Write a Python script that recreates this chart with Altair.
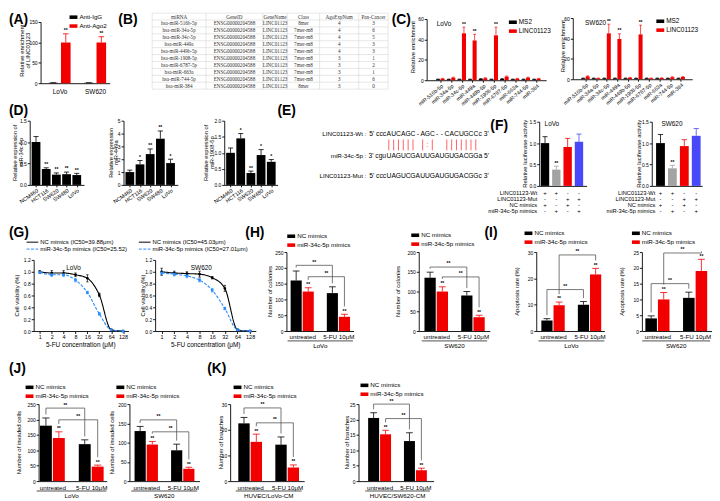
import altair as alt
import pandas as pd

FONT = "Liberation Sans"
SERIF = "Liberation Serif"
RED = "#f20000"
GRAY = "#a3a3a3"
BLUEBAR = "#4848f8"
BLUELINE = "#2b8cff"
BRK = "#555555"
PAIR = "#ff3b3b"

SX = 712 / 720
ONE = pd.DataFrame({"k": [0]})


def FX(v):
    return v * SX


def FY(v):
    # top strip is squeezed to absorb the page margin; below it positions are kept
    return v * (22 / 30) if v < 30 else v - 8


# ======================= DATA =======================
# (A) RIP
a_lines = ["LoVo", "SW620"]
a_series = ["Anti-IgG", "Anti-Ago2"]
a_igg = [1.0, 1.0]
a_igg_err = [0.3, 0.3]
a_ago2 = [100.0, 100.0]
a_ago2_err = [21.0, 14.0]

# (B) prediction table
b_header = ["miRNA", "GeneID", "GeneName", "Class", "AgoExpNum", "Pan-Cancer"]
b_mirna = ["hsa-miR-516b-5p", "hsa-miR-34a-5p", "hsa-miR-34c-5p", "hsa-miR-449a", "hsa-miR-449b-5p",
           "hsa-miR-1908-5p", "hsa-miR-6787-5p", "hsa-miR-663a", "hsa-miR-744-5p", "hsa-miR-384"]
b_geneid = ["ENSG00000204588"] * 10
b_genename = ["LINC01123"] * 10
b_class = ["8mer", "7mer-m8", "7mer-m8", "7mer-m8", "7mer-m8", "7mer-m8", "7mer-m8", "7mer-m8", "7mer-m8", "8mer"]
b_agoexp = [4, 4, 4, 4, 4, 3, 3, 3, 3, 3]
b_pancancer = [3, 6, 5, 3, 3, 1, 2, 1, 6, 0]

# (C) MS2-RIP
c_mirnas = ["miR-516b-5p", "miR-34a-5p", "miR-34c-5p", "miR-449a", "miR-449b-5p",
            "miR-1908-5p", "miR-6787-5p", "miR-663a", "miR-744-5p", "miR-384"]
c_series = ["MS2", "LINC01123"]
c_lovo_ms2 = [1.0, 1.0, 1.0, 1.0, 1.4, 1.0, 1.4, 1.0, 1.0, 1.0]
c_lovo_linc = [1.5, 2.5, 46.0, 39.0, 2.0, 44.0, 3.5, 1.5, 2.5, 1.5]
c_lovo_linc_err = [0.3, 0.5, 6.0, 6.0, 0.4, 8.0, 0.6, 0.3, 0.5, 0.3]
c_sw_ms2 = [1.0, 1.0, 1.0, 1.0, 1.0, 1.0, 1.0, 1.0, 1.0, 1.0]
c_sw_linc = [2.8, 1.0, 45.0, 39.5, 1.5, 44.0, 1.0, 1.2, 2.0, 2.2]
c_sw_linc_err = [0.5, 0.2, 9.0, 5.0, 0.3, 9.0, 0.2, 0.2, 0.4, 0.4]
c_ms2_err = [0.2] * 10
c_stars = ["", "", "**", "**", "", "**", "", "", "", ""]

# (D) qPCR in cell lines
d_lines = ["NCM460", "HCT116", "SW620", "SW480", "LoVo"]
d_34c = [1.0, 0.37, 0.24, 0.25, 0.23]
d_34c_err = [0.13, 0.03, 0.04, 0.05, 0.04]
d_34c_stars = ["", "**", "**", "**", "**"]
d_449a = [1.0, 1.6, 2.4, 3.6, 1.7]
d_449a_err = [0.15, 0.3, 0.4, 0.6, 0.3]
d_449a_stars = ["", "*", "**", "**", "*"]
d_1908 = [1.0, 1.45, 0.37, 0.93, 0.72]
d_1908_err = [0.15, 0.15, 0.06, 0.17, 0.07]
d_1908_stars = ["", "*", "**", "*", "*"]

# (E) binding sequences
e_labels = ["LINC01123-Wt :", "miR-34c-5p :", "LINC01123-Mut :"]
e_prefix = ["5' ccc", "3' cgu", "5' ccc"]
e_core = ["AUCAGC-AGC--CACUGCC", "UAGUCGAUUGAUGUGACGG", "UAGUCGAUUGAUGUGACGG"]
e_suffix = ["c 3'", "a 5'", "c 3'"]
e_pairs = "||||||.|:|..|||||||"

# (F) luciferase
f_keys = ["NC+Wt", "miR+Wt", "NC+Mut", "miR+Mut"]
f_lovo = [1.0, 0.38, 0.91, 1.03]
f_lovo_err = [0.15, 0.08, 0.20, 0.18]
f_sw = [1.0, 0.41, 0.93, 1.17]
f_sw_err = [0.20, 0.07, 0.15, 0.17]
f_stars = ["", "**", "", ""]
f_rows = ["LINC01123-Wt", "LINC01123-Mut", "NC mimics", "miR-34c-5p mimics"]
f_signs = [["+", "+", "-", "-"], ["-", "-", "+", "+"], ["+", "-", "+", "-"], ["-", "+", "-", "+"]]

# (G) 5-FU dose response
g_conc = [1, 2, 4, 8, 16, 32, 64, 128]
g_lovo_labels = ["NC mimics (IC50=39.88\u03bcm)", "miR-34c-5p mimics (IC50=25.52)"]
g_sw_labels = ["NC mimics (IC50=45.03\u03bcm)", "miR-34c-5p mimics (IC50=27.01\u03bcm)"]
g_lovo_nc = [1.00, 0.98, 0.98, 0.95, 0.89, 0.61, 0.02, 0.0]
g_lovo_nc_err = [0.02, 0.04, 0.04, 0.03, 0.06, 0.03, 0.01, 0.01]
g_lovo_mi = [0.99, 0.95, 0.95, 0.86, 0.65, 0.29, 0.02, 0.0]
g_lovo_mi_err = [0.02, 0.03, 0.03, 0.03, 0.02, 0.02, 0.01, 0.01]
g_sw_nc = [1.00, 0.98, 0.97, 0.96, 0.90, 0.72, 0.02, 0.0]
g_sw_nc_err = [0.06, 0.03, 0.03, 0.05, 0.02, 0.05, 0.01, 0.01]
g_sw_mi = [0.98, 0.96, 0.93, 0.86, 0.69, 0.38, 0.02, 0.0]
g_sw_mi_err = [0.03, 0.03, 0.03, 0.03, 0.03, 0.02, 0.01, 0.01]

# (H)-(K) grouped bars: [untreated, 5-FU 10uM]
grp_series = ["NC mimics", "miR-34c-5p mimics"]
grp_groups = ["untreated", "5-FU 10\u03bcM"]
h_lovo_nc, h_lovo_nc_err, h_lovo_mi, h_lovo_mi_err = [160, 120], [30, 20], [125, 45], [12, 8]
h_sw_nc, h_sw_nc_err, h_sw_mi, h_sw_mi_err = [135, 90], [14, 10], [100, 35], [12, 5]
i_lovo_nc, i_lovo_nc_err, i_lovo_mi, i_lovo_mi_err = [4.0, 10.0], [0.7, 1.2], [9.8, 21.5], [1.2, 2.3]
i_sw_nc, i_sw_nc_err, i_sw_mi, i_sw_mi_err = [4.0, 10.5], [0.8, 1.8], [10.0, 19.0], [2.2, 3.7]
j_lovo_nc, j_lovo_nc_err, j_lovo_mi, j_lovo_mi_err = [180, 120], [25, 14], [140, 47], [20, 5]
j_sw_nc, j_sw_nc_err, j_sw_mi, j_sw_mi_err = [130, 80], [12, 16], [95, 32], [8, 4]
k_lovo_nc, k_lovo_nc_err, k_lovo_mi, k_lovo_mi_err = [22.5, 14.2], [2.3, 3.0], [15.3, 5.3], [3.0, 1.0]
k_sw_nc, k_sw_nc_err, k_sw_mi, k_sw_mi_err = [20.5, 13.0], [1.7, 2.7], [15.2, 3.5], [1.3, 0.7]
# bracket heights (NC comparison, miR comparison)
h_lovo_brk, h_sw_brk = [208, 172], [162, 137]
i_lovo_brk, i_sw_brk = [15.75, 28.9], [15.0, 24.7]
j_lovo_brk, j_sw_brk = [237, 199], [159, 128]
k_lovo_brk, k_sw_brk = [28.5, 22.7], [25.0, 20.3]


# ======================= HELPERS =======================
RES = dict(x="independent", y="independent", color="independent", shape="independent",
           strokeDash="independent")


def spacer(x0, x1, y0, y1):
    return alt.Chart(ONE).mark_rect(opacity=0).encode(
        x=alt.value(x0), x2=alt.value(x1), y=alt.value(y0), y2=alt.value(y1)
    ).properties(width=1, height=1)


class Panel:
    def __init__(self, cell, plot):
        self.cell = cell
        self.plot = plot
        self.ox = round(FX(plot[0]))
        self.oy = round(FY(plot[1]))
        self.w = round(FX(plot[2])) - self.ox
        self.h = round(FY(plot[3])) - self.oy
        self.layers = []

    def rx(self, v):
        return FX(v) - self.ox

    def ry(self, v):
        return FY(v) - self.oy

    def add(self, *ch):
        self.layers.extend(ch)

    def text(self, s, x, y, size=6.0, weight="normal", align="left", baseline="middle",
             angle=None, color="black", font=FONT, lineHeight=None):
        kw = dict(fontSize=size, fontWeight=weight, align=align, baseline=baseline, color=color, font=font)
        if angle is not None:
            kw["angle"] = angle
        if lineHeight is not None:
            kw["lineHeight"] = lineHeight
        self.layers.append(alt.Chart(ONE).mark_text(**kw).encode(
            x=alt.value(self.rx(x)), y=alt.value(self.ry(y)), text=alt.value(s)))

    def line(self, x0, y0, x1, y1, color="black", width=0.8, dash=None):
        kw = dict(color=color, strokeWidth=width)
        if dash is not None:
            kw["strokeDash"] = dash
        self.layers.append(alt.Chart(ONE).mark_rule(**kw).encode(
            x=alt.value(self.rx(x0)), y=alt.value(self.ry(y0)),
            x2=alt.value(self.rx(x1)), y2=alt.value(self.ry(y1))))

    def column(self):
        c = self.cell
        fx0 = round(FX(c[0])) - self.ox
        fx1 = round(FX(c[2])) - self.ox
        top = round(FY(c[1])) - self.oy + 1
        bot = round(FY(c[3])) - self.oy
        frame = alt.Chart(ONE).mark_rect(opacity=0).encode(
            x=alt.value(fx0), x2=alt.value(fx1), y=alt.value(top), y2=alt.value(bot))
        body = alt.layer(frame, *self.layers).properties(width=self.w, height=self.h)
        return alt.vconcat(spacer(fx0, fx1, 0, 1), body, spacing=0).resolve_scale(**RES)


def tern(pairs):
    return " : ".join(f"abs(datum.value - ({v})) < 0.001 ? '{t}'" for v, t in pairs) + " : ''"


def yaxis(ticks, fmt, size=5.0):
    return alt.Axis(values=ticks, format=fmt, title=None, labelFontSize=size, tickSize=2.5,
                    labelPadding=1, grid=False, labelOverlap=False)


BLANK_X = alt.Axis(labels=False, ticks=False, title=None, grid=False)


def panel_label(p, s, x, y):
    p.text(s, x, y, size=14, weight="bold", baseline="top")


def bar_df(pos, vals, errs, keys, stars, half, cap):
    return pd.DataFrame({
        "pos": pos,
        "x0": [q - half for q in pos],
        "x1": [q + half for q in pos],
        "val": vals,
        "top": [v + e for v, e in zip(vals, errs)],
        "zero": [0.0] * len(pos),
        "c0": [q - cap for q in pos],
        "c1": [q + cap for q in pos],
        "key": keys,
        "star": stars,
    })


def bar_layers(df, xs, ys, xax, yax, cscale, legend=None, star_size=5.0, err_w=0.8):
    base = alt.Chart(df)
    col = alt.Color("key:N", scale=cscale, legend=legend)
    coln = alt.Color("key:N", scale=cscale, legend=None)
    bar = base.mark_bar().encode(
        x=alt.X("x0:Q", scale=xs, axis=xax), x2="x1:Q",
        y=alt.Y("val:Q", scale=ys, axis=yax), y2="zero:Q", color=col)
    err = base.mark_rule(strokeWidth=err_w).encode(
        x=alt.X("pos:Q", scale=xs, axis=xax),
        y=alt.Y("val:Q", scale=ys, axis=yax), y2="top:Q", color=coln)
    cap = base.mark_rule(strokeWidth=err_w).encode(
        x=alt.X("c0:Q", scale=xs, axis=xax), x2="c1:Q",
        y=alt.Y("top:Q", scale=ys, axis=yax), color=coln)
    star = base.mark_text(baseline="bottom", dy=-0.6, fontSize=star_size, fontWeight="bold",
                          font=FONT, color="black").encode(
        x=alt.X("pos:Q", scale=xs, axis=xax),
        y=alt.Y("top:Q", scale=ys, axis=yax), text="star:N")
    return [bar, err, cap, star]


def bar_legend(p, sx, sy, size=6.3):
    return alt.Legend(orient="none", legendX=p.rx(sx), legendY=p.ry(sy) - 4.0, title=None,
                      symbolType="M-1,-0.45H1V0.45H-1Z", symbolSize=64, symbolStrokeWidth=0,
                      labelFontSize=size, labelFont=FONT, labelColor="black", rowPadding=1,
                      padding=0, labelOffset=2, symbolOffset=0, labelLimit=300)


def xscale(first_rel, step, width, first_val=0.0):
    return alt.Scale(domain=[first_val - first_rel / step, first_val + (width - first_rel) / step],
                     nice=False, zero=False)


# ======================= ROW 1 =======================
# (A)
pA = Panel((0, 0, 110, 115), (32, 13, 103, 80))
xsA = xscale(19.5, 36.5, 71, 1.0)
dfA = bar_df([1 - 0.175, 2 - 0.175, 1 + 0.175, 2 + 0.175], a_igg + a_ago2, a_igg_err + a_ago2_err,
             [a_series[0]] * 2 + [a_series[1]] * 2, ["", "", "**", "**"], 0.135, 0.08)
xaxA = alt.Axis(values=[1, 2], labelExpr=tern([(1, a_lines[0]), (2, a_lines[1])]), ticks=False,
                title=None, labelFontSize=6.5, labelPadding=5, grid=False, labelOverlap=False)
pA.add(*bar_layers(dfA, xsA, alt.Scale(domain=[0, 150], nice=False), xaxA, yaxis([0, 50, 100, 150], "d"),
                   alt.Scale(domain=a_series, range=["black", RED]), legend=bar_legend(pA, 62, 7)))
pA.text(["Relative enrichment", "of LINC01123"], 13, 47, size=6, align="center", angle=270, lineHeight=6.5)
panel_label(pA, "(A)", 0, 1)
panel_label(pA, "(D)", 0, 101)

# (B)
pB = Panel((110, 0, 389, 115), (147, 2, 388, 86))
b_edges = [147, 202, 260, 285, 318, 358, 388]
b_centers = [(a + b) / 2 for a, b in zip(b_edges[:-1], b_edges[1:])]
b_cols = [b_mirna, b_geneid, b_genename, b_class, [str(v) for v in b_agoexp], [str(v) for v in b_pancancer]]
rows_t = []
for c, h in enumerate(b_header):
    rows_t.append({"x": b_centers[c], "y": 0.5, "t": h})
for c, col in enumerate(b_cols):
    for r, v in enumerate(col):
        rows_t.append({"x": b_centers[c], "y": r + 1.5, "t": v})
dfT = pd.DataFrame(rows_t)
xsB = alt.Scale(domain=[b_edges[0], b_edges[-1]], nice=False, zero=False)
ysB = alt.Scale(domain=[0, 11], nice=False, zero=False, reverse=True)
dfV = pd.DataFrame({"x": b_edges, "y0": [0] * len(b_edges), "y1": [11] * len(b_edges)})
dfH = pd.DataFrame({"y": list(range(12)), "x0": [b_edges[0]] * 12, "x1": [b_edges[-1]] * 12})
pB.add(
    alt.Chart(dfV).mark_rule(color="#cfcfcf", strokeWidth=0.5).encode(
        x=alt.X("x:Q", scale=xsB, axis=None), y=alt.Y("y0:Q", scale=ysB, axis=None), y2="y1:Q"),
    alt.Chart(dfH).mark_rule(color="#cfcfcf", strokeWidth=0.5).encode(
        x=alt.X("x0:Q", scale=xsB, axis=None), x2="x1:Q", y=alt.Y("y:Q", scale=ysB, axis=None)),
    alt.Chart(dfT).mark_text(font=SERIF, fontSize=5.2, color="#333333").encode(
        x=alt.X("x:Q", scale=xsB, axis=None), y=alt.Y("y:Q", scale=ysB, axis=None), text="t:N"),
)
panel_label(pB, "(B)", 112, 1)
panel_label(pB, "(E)", 275, 101)


# (C)
def c_panel(cell, plot, first_rel, step, ms2, linc, linc_err, name, name_x, leg_x, title_x):
    p = Panel(cell, plot)
    W = plot[2] - plot[0]
    xs = xscale(first_rel, step, W)
    idx = list(range(10))
    pos = [i - 0.21 for i in idx] + [i + 0.21 for i in idx]
    df = bar_df(pos, ms2 + linc, c_ms2_err + linc_err, [c_series[0]] * 10 + [c_series[1]] * 10,
                [""] * 10 + c_stars, 0.19, 0.13)
    xax = alt.Axis(values=idx, labelExpr=tern(list(zip(idx, c_mirnas))), labelAngle=-40,
                   labelAlign="right", labelBaseline="top", labelFontSize=5.3, tickSize=2,
                   labelPadding=1, title=None, grid=False, labelOverlap=False)
    p.add(*bar_layers(df, xs, alt.Scale(domain=[0, 60], nice=False), xax, yaxis([0, 20, 40, 60], "d"),
                      alt.Scale(domain=c_series, range=["black", RED]),
                      legend=bar_legend(p, leg_x, 14, size=6.5), err_w=0.7))
    p.text(name, name_x, 17, size=6.5)
    p.text("Relative enrichment", title_x, 43.5, size=6, align="center", angle=270)
    return p


pC1 = c_panel((389, 0, 561, 115), (428, 10, 550, 77), 14, 10.9, c_lovo_ms2, c_lovo_linc, c_lovo_linc_err,
              "LoVo", 438, 512, 414)
panel_label(pC1, "(C)", 392, 1)
pC2 = c_panel((561, 0, 720, 115), (577, 10, 700, 77), 13, 10.9, c_sw_ms2, c_sw_linc, c_sw_linc_err,
              "SW620", 590, 663, 567)


# ======================= ROW 2 =======================
def d_panel(cell, plot, vals, errs, stars, ymax, ticks, fmt, title, title_x):
    p = Panel(cell, plot)
    W = plot[2] - plot[0]
    xs = xscale(6.5, 10.5, W)
    idx = list(range(5))
    df = bar_df(idx, vals, errs, ["d"] * 5, stars, 0.43, 0.25)
    xax = alt.Axis(values=idx, labelExpr=tern(list(zip(idx, d_lines))), labelAngle=-35,
                   labelAlign="right", labelBaseline="top", labelFontSize=5.5, tickSize=2,
                   labelPadding=1, title=None, grid=False, labelOverlap=False)
    p.add(*bar_layers(df, xs, alt.Scale(domain=[0, ymax], nice=False), xax, yaxis(ticks, fmt),
                      alt.Scale(domain=["d"], range=["black"])))
    p.text(title, title_x, (plot[1] + plot[3]) / 2, size=5.8, align="center", angle=270, lineHeight=6)
    return p


pD1 = d_panel((0, 115, 95, 218), (21, 118, 77, 183), d_34c, d_34c_err, d_34c_stars, 1.5,
              [0, 0.5, 1.0, 1.5], ".1f", ["Relative expression of", "miR-34c-5p"], 6.5)
pD2 = d_panel((95, 115, 192, 218), (117, 118, 173, 183), d_449a, d_449a_err, d_449a_stars, 5,
              [0, 1, 2, 3, 4, 5], "d", ["Relative expression", "miR-449a"], 104)
pD3 = d_panel((192, 115, 285, 218), (220, 118, 275, 183), d_1908, d_1908_err, d_1908_stars, 2.0,
              [0, 0.5, 1.0, 1.5, 2.0], ".1f", ["Relative expression of", "miR-1908-5p"], 202)

f_row_y = [190, 196, 202, 208]


def f_panel(cell, plot, first, step, vals, errs, name, name_x, lab_x, title_x):
    p = Panel(cell, plot)
    W = plot[2] - plot[0]
    xs = xscale(first, step, W)
    df = bar_df([0, 1, 2, 3], vals, errs, f_keys, f_stars, 0.37, 0.22)
    p.add(*bar_layers(df, xs, alt.Scale(domain=[0, 1.5], nice=False), BLANK_X,
                      yaxis([0, 0.5, 1.0, 1.5], ".1f"),
                      alt.Scale(domain=f_keys, range=["black", GRAY, RED, BLUEBAR])))
    for r, (lab, signs) in enumerate(zip(f_rows, f_signs)):
        y = f_row_y[r]
        p.text(lab, lab_x, y, size=5.8, align="right")
        sdf = pd.DataFrame({"pos": [0, 1, 2, 3], "s": signs})
        p.add(alt.Chart(sdf).mark_text(fontSize=6, font=FONT, color="black").encode(
            x=alt.X("pos:Q", scale=xs, axis=BLANK_X), y=alt.value(p.ry(y)), text="s:N"))
    p.text(name, name_x, 120.5, size=6.5, align="center")
    p.text("Relative luciferase activity", title_x, 150.5, size=6, align="center", angle=270)
    return p


pF1 = f_panel((285, 115, 600, 218), (543, 118, 592, 183), 6, 11.7, f_lovo, f_lovo_err,
              "LoVo", 556, 541, 528)
panel_label(pF1, "(F)", 493, 115)
# (E) drawn inside the same cell as F (LoVo)
e_row_y = [130, 153, 173]
e_x0, e_dx = 389.0, 4.95
for r in range(3):
    y = e_row_y[r]
    pF1.text(e_labels[r], 366, y, size=6.3, align="right")
    pF1.text(e_prefix[r], e_x0 - e_dx / 2 - 0.3, y, size=6.8, align="right")
    for i, ch in enumerate(e_core[r]):
        pF1.text(ch, e_x0 + e_dx * i, y, size=6.8, align="center")
    pF1.text(e_suffix[r], e_x0 + e_dx * (len(e_core[r]) - 0.5) + 0.3, y, size=6.8, align="left")
for i, ch in enumerate(e_pairs):
    if ch == "|":
        pF1.line(e_x0 + e_dx * i, 136, e_x0 + e_dx * i, 147, color=PAIR, width=0.8)
    elif ch == ":":
        pF1.text(":", e_x0 + e_dx * i, 141.5, size=7, align="center", color=PAIR)

pF2 = f_panel((600, 115, 720, 218), (658, 118, 710, 183), 9, 12.3, f_sw, f_sw_err,
              "SW620", 679, 662, 645)


# ======================= ROW 3 =======================
def g_panel(cell, plot, nc, nc_err, mi, mi_err, labels, name, name_x, leg_x, title_x):
    p = Panel(cell, plot)
    rows = []
    for lab, vals, errs in [(labels[0], nc, nc_err), (labels[1], mi, mi_err)]:
        for c, v, e in zip(g_conc, vals, errs):
            rows.append({"c": c, "v": v, "lo": v - e, "hi": v + e, "c0": c / 1.07, "c1": c * 1.07, "s": lab})
    df = pd.DataFrame(rows)
    xs = alt.Scale(type="log", base=2, domain=[0.7, 175], nice=False)
    ys = alt.Scale(domain=[0, 1.2], nice=False, zero=False)
    xax = alt.Axis(values=g_conc, format="d", title=None, labelFontSize=5.5, tickSize=2.5,
                   labelPadding=1, grid=False, labelOverlap=False)
    yax = yaxis([0.0, 0.2, 0.4, 0.6, 0.8, 1.0, 1.2], ".1f")
    col = alt.Color("s:N", scale=alt.Scale(domain=labels, range=["black", BLUELINE]), legend=None)
    dash = alt.StrokeDash("s:N", scale=alt.Scale(domain=labels, range=[[1, 0], [3, 1.5]]), legend=None)
    shp = alt.Shape("s:N", scale=alt.Scale(domain=labels, range=["circle", "square"]), legend=None)
    base = alt.Chart(df)
    X_ = alt.X("c:Q", scale=xs, axis=xax)
    p.add(
        base.mark_line(interpolate="monotone", strokeWidth=1.1).encode(
            x=X_, y=alt.Y("v:Q", scale=ys, axis=yax), color=col, strokeDash=dash),
        base.mark_rule(strokeWidth=0.7).encode(
            x=X_, y=alt.Y("lo:Q", scale=ys, axis=yax), y2="hi:Q", color=col),
        base.mark_rule(strokeWidth=0.7).encode(
            x=alt.X("c0:Q", scale=xs, axis=xax), x2="c1:Q", y=alt.Y("hi:Q", scale=ys, axis=yax), color=col),
        base.mark_rule(strokeWidth=0.7).encode(
            x=alt.X("c0:Q", scale=xs, axis=xax), x2="c1:Q", y=alt.Y("lo:Q", scale=ys, axis=yax), color=col),
        base.mark_point(filled=True, size=7, opacity=1).encode(
            x=X_, y=alt.Y("v:Q", scale=ys, axis=yax), color=col, shape=shp),
    )
    # legend (line samples + labels)
    p.line(leg_x, 240, leg_x + 12, 240, color="black", width=1)
    p.text(labels[0], leg_x + 14, 240, size=6)
    p.line(leg_x, 247, leg_x + 12, 247, color=BLUELINE, width=1, dash=[3, 1.5])
    p.text(labels[1], leg_x + 14, 247, size=6)
    p.text(name, name_x, 266, size=6.5, align="center")
    p.text("5-FU concentration (\u03bcM)", (plot[0] + plot[2]) / 2, 344, size=6.5, align="center")
    p.text("Cell viability (%)", title_x, 294, size=6, align="center", angle=270)
    return p


pG1 = g_panel((0, 218, 131, 355), (25, 258, 122, 330), g_lovo_nc, g_lovo_nc_err, g_lovo_mi,
              g_lovo_mi_err, g_lovo_labels, "LoVo", 66, 18, 8)
panel_label(pG1, "(G)", 0, 224)
pG2 = g_panel((131, 218, 263, 355), (150, 258, 253, 330), g_sw_nc, g_sw_nc_err, g_sw_mi,
              g_sw_mi_err, g_sw_labels, "SW620", 197, 133, 137)
panel_label(pG2, "(H)", 242, 224)


def grouped(cell, plot, first_c, unit, ymax, ystep, nc, nc_err, mi, mi_err, brk,
            ytitle, ytitle_x, gname, leg_xy):
    p = Panel(cell, plot)
    W = plot[2] - plot[0]
    xs = xscale(first_c, unit, W)
    ys = alt.Scale(domain=[0, ymax], nice=False, zero=False)
    ticks = [ystep * k for k in range(int(round(ymax / ystep)) + 1)]
    pos = [0, 3, 1, 4]
    vals = [nc[0], nc[1], mi[0], mi[1]]
    errs = [nc_err[0], nc_err[1], mi_err[0], mi_err[1]]
    keys = [grp_series[0]] * 2 + [grp_series[1]] * 2
    df = bar_df(pos, vals, errs, keys, ["", "", "**", "**"], 0.46, 0.28)
    xax = alt.Axis(values=[0.5, 3.5], labelExpr=tern([(0.5, grp_groups[0]), (3.5, grp_groups[1])]),
                   ticks=False, title=None, labelFontSize=6.3, labelPadding=3, grid=False,
                   labelOverlap=False)
    yax = yaxis(ticks, "d")
    p.add(*bar_layers(df, xs, ys, xax, yax, alt.Scale(domain=grp_series, range=["black", RED]),
                      legend=bar_legend(p, leg_xy[0], leg_xy[1])))
    # significance brackets
    per_px = ymax / (plot[3] - plot[1])
    tops = {q: v + e for q, v, e in zip(pos, vals, errs)}
    segs, marks = [], []
    for (a, b, yb, gap) in [(0, 3, brk[0], 3.5), (1, 4, brk[1], 8.0)]:
        segs.append({"xa": a, "xb": a, "ya": tops[a] + gap * per_px, "yb": yb})
        segs.append({"xa": a, "xb": b, "ya": yb, "yb": yb})
        segs.append({"xa": b, "xb": b, "ya": tops[b] + gap * per_px, "yb": yb})
        marks.append({"x": (a + b) / 2, "y": yb, "t": "**"})
    p.add(
        alt.Chart(pd.DataFrame(segs)).mark_rule(color=BRK, strokeWidth=0.8).encode(
            x=alt.X("xa:Q", scale=xs, axis=xax), x2="xb:Q",
            y=alt.Y("ya:Q", scale=ys, axis=yax), y2="yb:Q"),
        alt.Chart(pd.DataFrame(marks)).mark_text(baseline="bottom", dy=-0.6, fontSize=5,
                                                 fontWeight="bold", font=FONT, color="black").encode(
            x=alt.X("x:Q", scale=xs, axis=xax), y=alt.Y("y:Q", scale=ys, axis=yax), text="t:N"),
    )
    left = plot[0] + first_c - 0.46 * unit - 3
    right = plot[0] + first_c + 4.46 * unit + 3
    p.line(left, plot[3] + 10, right, plot[3] + 10, color="black", width=0.7)
    p.text(gname, (left + right) / 2, plot[3] + 15, size=6.3, align="center")
    p.text(ytitle, ytitle_x, (plot[1] + plot[3]) / 2, size=6, align="center", angle=270)
    return p


pH1 = grouped((263, 218, 393, 355), (284, 250, 353, 330), 10, 12.4, 250, 50,
              h_lovo_nc, h_lovo_nc_err, h_lovo_mi, h_lovo_mi_err, h_lovo_brk,
              "Number of colonies", 267, "LoVo", (285, 234))
pH2 = grouped((393, 218, 512, 355), (420, 250, 492, 330), 11.5, 12.4, 200, 50,
              h_sw_nc, h_sw_nc_err, h_sw_mi, h_sw_mi_err, h_sw_brk,
              "Number of colonies", 398, "SW620", (412, 233))
panel_label(pH2, "(I)", 487, 224)
pI1 = grouped((512, 218, 622, 355), (540, 250, 610, 330), 11, 12.5, 30, 10,
              i_lovo_nc, i_lovo_nc_err, i_lovo_mi, i_lovo_mi_err, i_lovo_brk,
              "Apoptosis rate (%)", 520, "LoVo", (528, 231))
pI2 = grouped((622, 218, 720, 355), (648, 250, 720, 330), 9.5, 12.9, 25, 5,
              i_sw_nc, i_sw_nc_err, i_sw_mi, i_sw_mi_err, i_sw_brk,
              "Apoptosis rate (%)", 628, "SW620", (638, 231))

# ======================= ROW 4 =======================
pJ1 = grouped((0, 355, 101, 501), (30, 404, 100, 482), 7.5, 13.3, 250, 50,
              j_lovo_nc, j_lovo_nc_err, j_lovo_mi, j_lovo_mi_err, j_lovo_brk,
              "Number of invaded cells", 10, "LoVo", (17, 387))
panel_label(pJ1, "(J)", 0, 362)
pJ2 = grouped((101, 355, 200, 501), (123, 404, 195, 482), 11, 12.5, 200, 50,
              j_sw_nc, j_sw_nc_err, j_sw_mi, j_sw_mi_err, j_sw_brk,
              "Number of invaded cells", 106, "SW620", (110, 387))
pK1 = grouped((200, 355, 340, 501), (227, 404, 302, 482), 14, 12.5, 30, 10,
              k_lovo_nc, k_lovo_nc_err, k_lovo_mi, k_lovo_mi_err, k_lovo_brk,
              "Number of branches", 217, "HUVEC/LoVo-CM", (230, 387))
panel_label(pK1, "(K)", 203, 362)
pK2 = grouped((340, 355, 720, 501), (358, 404, 435, 482), 15.5, 12.25, 25, 5,
              k_sw_nc, k_sw_nc_err, k_sw_mi, k_sw_mi_err, k_sw_brk,
              "Number of branches", 346, "HUVEC/SW620-CM", (360, 385))


def row(panels):
    lead = spacer(0, 1, 0, 1)
    return alt.hconcat(lead, *[p.column() for p in panels], spacing=0).resolve_scale(**RES)


chart = alt.vconcat(
    row([pA, pB, pC1, pC2]),
    row([pD1, pD2, pD3, pF1, pF2]),
    row([pG1, pG2, pH1, pH2, pI1, pI2]),
    row([pJ1, pJ2, pK1, pK2]),
    spacing=0, padding=0,
).resolve_scale(**RES).configure(font=FONT).configure_view(stroke=None).configure_axis(
    domainColor="black", domainWidth=0.9, tickColor="black", tickWidth=0.9, labelColor="black",
    labelFont=FONT, titleFont=FONT, grid=False, labelOverlap=False, labelFlush=False
).configure_legend(labelFont=FONT, labelColor="black")

chart.save("out.html", embed_options={"renderer": "svg", "actions": False})
